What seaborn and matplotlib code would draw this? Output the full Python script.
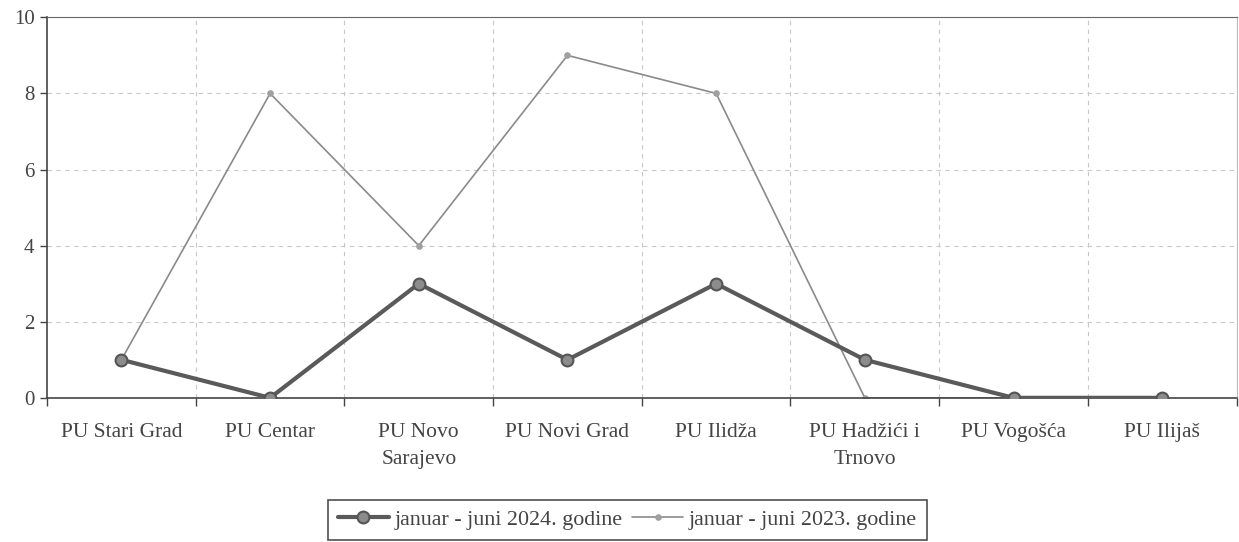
import pandas as pd
import matplotlib.pyplot as plt
import seaborn as sns

# podaci očitani s grafikona
kategorije = ['PU Stari Grad', 'PU Centar', 'PU Novo\nSarajevo', 'PU Novi Grad',
              'PU Ilidža', 'PU Hadžići i\nTrnovo', 'PU Vogošća', 'PU Ilijaš']
vrijednosti_2024 = [1, 0, 3, 1, 3, 1, 0, 0]
vrijednosti_2023 = [1, 8, 4, 9, 8, 0, 0, 0]
serija_2024 = 'januar - juni 2024. godine'
serija_2023 = 'januar - juni 2023. godine'

df = pd.DataFrame({
    'pu': list(range(len(kategorije))) * 2,
    'broj': vrijednosti_2024 + vrijednosti_2023,
    'period': [serija_2024] * len(kategorije) + [serija_2023] * len(kategorije),
})

sns.set_style('white')
plt.rcParams['font.family'] = ['Liberation Serif', 'DejaVu Serif']

fig, ax = plt.subplots(figsize=(12.39, 5.42), dpi=100)
fig.subplots_adjust(left=0.038, right=0.998, top=0.968, bottom=0.266)

sns.lineplot(data=df[df['period'] == serija_2024], x='pu', y='broj', ax=ax,
             color='#5a5a5a', linewidth=3, marker='o', markersize=8.5,
             markerfacecolor='#8c8c8c', markeredgecolor='#555555', markeredgewidth=1.5,
             label=serija_2024, zorder=3)
sns.lineplot(data=df[df['period'] == serija_2023], x='pu', y='broj', ax=ax,
             color='#8a8a8a', linewidth=1.2, marker='o', markersize=4,
             markerfacecolor='#a0a0a0', markeredgecolor='#a0a0a0',
             label=serija_2023, zorder=2)

ax.set_xlim(-0.5, len(kategorije) - 0.5)
ax.set_ylim(0, 10)
ax.set_yticks([0, 2, 4, 6, 8, 10])

granice = [i - 0.5 for i in range(len(kategorije) + 1)]
ax.set_xticks(granice)
ax.set_xticklabels([])
ax.set_xticks(range(len(kategorije)), minor=True)
ax.set_xticklabels(kategorije, minor=True, fontsize=15.5, color='#444444')
for t in ax.get_xticklabels(minor=True):
    t.set_linespacing(1.6)
ax.tick_params(axis='x', which='minor', length=0, pad=18)
ax.tick_params(axis='x', which='major', length=6, width=1, color='#444444', direction='out', bottom=True)
ax.tick_params(axis='y', length=5, width=1, color='#444444', direction='out', left=True,
               labelsize=15, labelcolor='#444444', pad=4)

for x in granice[1:-1]:
    ax.axvline(x, color='#c8c8c8', linestyle=(0, (4, 4)), linewidth=0.8, zorder=0)
for y in [2, 4, 6, 8]:
    ax.axhline(y, color='#c8c8c8', linestyle=(0, (4, 4)), linewidth=0.8, zorder=0)

ax.set_xlabel('')
ax.set_ylabel('')
for s in ['left', 'bottom']:
    ax.spines[s].set_color('#444444')
    ax.spines[s].set_linewidth(1.2)
ax.spines['top'].set_color('#666666')
ax.spines['right'].set_color('#bbbbbb')

leg = ax.legend(loc='upper center', bbox_to_anchor=(0.488, -0.268), ncol=2, frameon=True,
                fancybox=False, edgecolor='#222222', fontsize=15.8, handlelength=2.3,
                handletextpad=0.27, columnspacing=0.45, borderpad=0.45, borderaxespad=0)
leg.get_frame().set_linewidth(1.2)
for t in leg.get_texts():
    t.set_color('#444444')

plt.savefig('out.png', dpi=100)
